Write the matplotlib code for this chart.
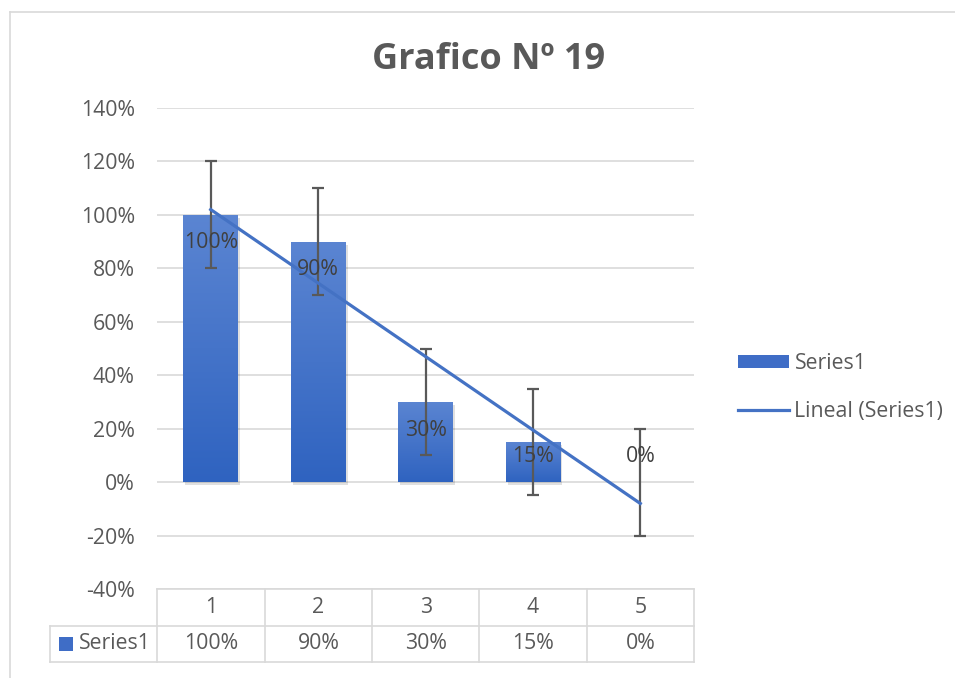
import numpy as np
import matplotlib
matplotlib.use("Agg")
import matplotlib.pyplot as plt
from matplotlib.patches import Rectangle
from matplotlib.lines import Line2D

plt.rcParams['font.family'] = ['Open Sans', 'DejaVu Sans']

categories = ["1", "2", "3", "4", "5"]
values = [1.00, 0.90, 0.30, 0.15, 0.00]
value_labels = ["100%", "90%", "30%", "15%", "0%"]
error = 0.20
series_name = "Series1"
trend_name = "Lineal (Series1)"
title = "Grafico Nº 19"
yticks = [-0.4, -0.2, 0.0, 0.2, 0.4, 0.6, 0.8, 1.0, 1.2, 1.4]

grey = "#595959"
grid_c = "#D9D9D9"
blue = "#4472C4"
fs = 15.3

W, H = 955, 678
fig = plt.figure(figsize=(W / 100, H / 100), dpi=100)

# chart area border (only top/left visible in the crop)
fig.add_artist(Line2D([10 / W, 1], [1 - 12 / H, 1 - 12 / H], color=grid_c, linewidth=1.2))
fig.add_artist(Line2D([10 / W, 10 / W], [0, 1 - 12 / H], color=grid_c, linewidth=1.2))

ax = fig.add_axes([157 / W, 1 - 589 / H, (694 - 157) / W, (589 - 108) / H])
x = np.arange(1, len(values) + 1)
ax.set_yticks(yticks)
ax.set_yticklabels([f"{round(t * 100)}%" for t in yticks], fontsize=fs, color=grey)
ax.tick_params(axis="y", length=0, pad=16)
ax.set_xticks([])
for s in ax.spines.values():
    s.set_visible(False)
ax.grid(axis="y", color=grid_c, linewidth=1.2)
ax.set_axisbelow(True)

# bars with gradient + soft shadow
bw = 0.51
grad = np.linspace(0, 1, 256).reshape(-1, 1)
cmap = matplotlib.colors.LinearSegmentedColormap.from_list("g", ["#2F63C0", "#5B85D2"])
for xi, v in zip(x, values):
    if v <= 0:
        continue
    ax.add_patch(Rectangle((xi - bw / 2 + 0.02, -0.012), bw, v, facecolor="#000000",
                           alpha=0.12, edgecolor="none", zorder=1.5))
    im = ax.imshow(grad, extent=(xi - bw / 2, xi + bw / 2, 0, v), origin="lower",
                   cmap=cmap, aspect="auto", zorder=2)
    r = Rectangle((xi - bw / 2, 0), bw, v, facecolor="none", edgecolor="none")
    ax.add_patch(r)
    im.set_clip_path(r)
ax.set_xlim(0.5, len(values) + 0.5)
ax.set_ylim(-0.4, 1.4)

# error bars
ax.errorbar(x, values, yerr=error, fmt="none", ecolor=grey, elinewidth=1.6,
            capsize=4.5, capthick=1.6, zorder=3)

# linear trendline
slope, intercept = np.polyfit(x, values, 1)
ax.plot(x, slope * x + intercept, color=blue, linewidth=2.3, zorder=4)

# data labels
for xi, v, lab in zip(x, values, value_labels):
    ax.text(xi, max(v - 0.105, 0.095), lab, ha="center", va="center",
            fontsize=fs, color="#404040", zorder=5)

fig.text(489 / W, 1 - 60 / H, title, ha="center", va="center", fontsize=26,
         fontweight="bold", color=grey)

# legend
lg_handles = [Rectangle((0, 0), 1, 1, facecolor="#3F6DC6", edgecolor="none"),
              Line2D([0], [0], color=blue, linewidth=2.3)]
fig.legend(lg_handles, [series_name, trend_name], loc="upper left",
           bbox_to_anchor=(719 / W, 1 - 334 / H), frameon=False, fontsize=fs,
           labelcolor=grey, handlelength=2.4, handleheight=0.55, labelspacing=1.25,
           handletextpad=0.25)

# data table
tx = fig.add_axes([50 / W, 1 - 662 / H, (694 - 50) / W, (662 - 589) / H])
tx.set_xlim(-0.5, len(values) + 0.5)
tx.set_ylim(0, 2)
tx.axis("off")
n = len(values)
lkw = dict(color=grid_c, linewidth=1.2, clip_on=False)
tx.plot([0.5, n + 0.5], [2, 2], **lkw)
tx.plot([-0.5, n + 0.5], [1, 1], **lkw)
tx.plot([-0.5, n + 0.5], [0, 0], **lkw)
tx.plot([-0.5, -0.5], [0, 1], **lkw)
for k in range(n + 1):
    tx.plot([k + 0.5, k + 0.5], [0, 2], **lkw)
for xi, c, lab in zip(x, categories, value_labels):
    tx.text(xi, 1.5, c, ha="center", va="center", fontsize=fs, color=grey)
    tx.text(xi, 0.5, lab, ha="center", va="center", fontsize=fs, color=grey)
tx.add_patch(Rectangle((-0.415, 0.31), 0.125, 0.38, facecolor="#3F6DC6", edgecolor="none"))
tx.text(-0.235, 0.5, series_name, ha="left", va="center", fontsize=fs, color=grey)

fig.savefig("out.png", dpi=100)
